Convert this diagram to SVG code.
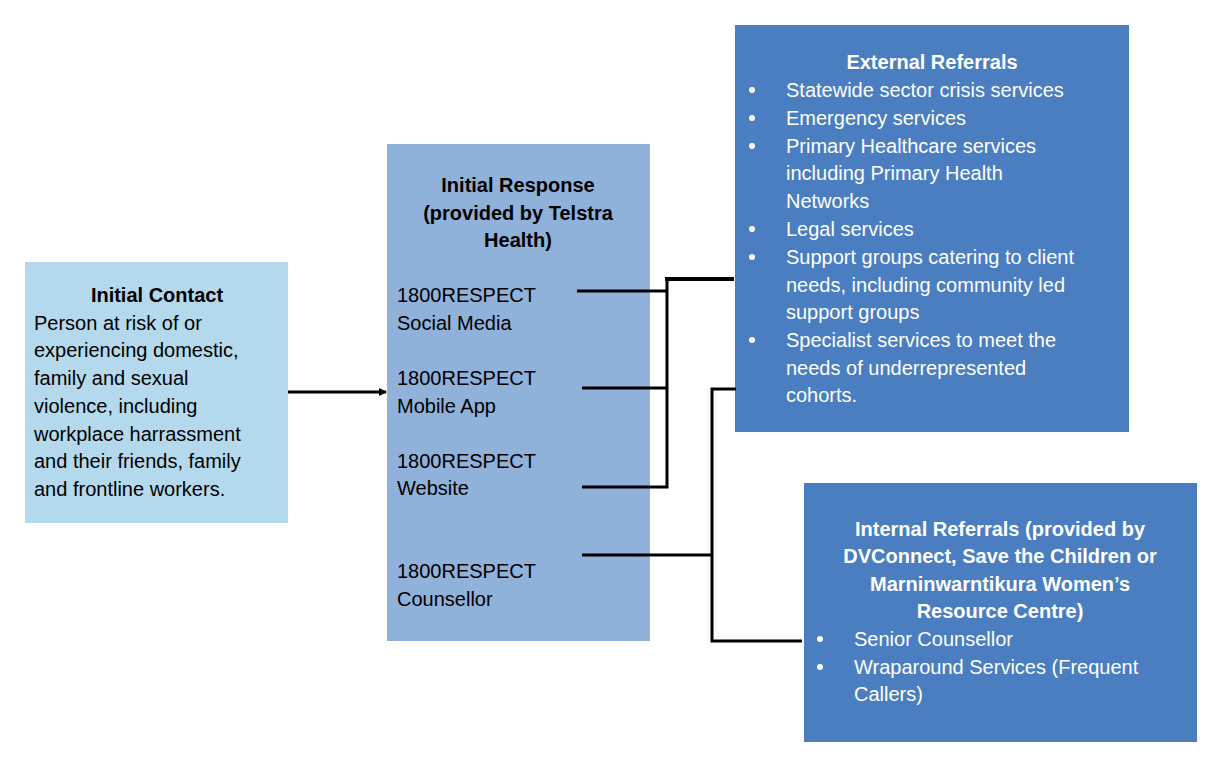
<svg xmlns="http://www.w3.org/2000/svg" width="1224" height="769" viewBox="0 0 1224 769">
<defs>
<style>
text{font-family:"Liberation Sans",Arial,sans-serif;font-size:20px}
.b{font-weight:bold}
.w{fill:#fff}
.k{fill:#000}
.c{stroke:#000;stroke-width:3;fill:none}
</style>
<marker id="ah" markerWidth="8" markerHeight="8" refX="7" refY="4" orient="auto" markerUnits="userSpaceOnUse" viewBox="0 0 8 8"><path d="M0,0L8,4L0,8z" fill="#000"/></marker>
</defs>
<rect width="1224" height="769" fill="#fff"/>
<g id="initial-contact">
<rect x="25" y="262" width="263" height="261" fill="#b4d9ec"/>
<text class="b k" x="157" y="302" text-anchor="middle">Initial Contact</text>
<text class="k" x="34" y="330">Person at risk of or</text>
<text class="k" x="34" y="357">experiencing domestic,</text>
<text class="k" x="34" y="385">family and sexual</text>
<text class="k" x="34" y="413">violence, including</text>
<text class="k" x="34" y="441">workplace harrassment</text>
<text class="k" x="34" y="468">and their friends, family</text>
<text class="k" x="34" y="496">and frontline workers.</text>
</g>
<g id="initial-response">
<rect x="387" y="144" width="263" height="497" fill="#8fb1da"/>
<text class="b k" x="518" y="192" text-anchor="middle">Initial Response</text>
<text class="b k" x="518" y="220" text-anchor="middle">(provided by Telstra</text>
<text class="b k" x="518" y="247" text-anchor="middle">Health)</text>
<text class="k" x="397" y="302">1800RESPECT</text>
<text class="k" x="397" y="330">Social Media</text>
<text class="k" x="397" y="385">1800RESPECT</text>
<text class="k" x="397" y="413">Mobile App</text>
<text class="k" x="397" y="468">1800RESPECT</text>
<text class="k" x="397" y="495">Website</text>
<text class="k" x="397" y="578">1800RESPECT</text>
<text class="k" x="397" y="606">Counsellor</text>
</g>
<g id="external-referrals">
<rect x="735" y="25" width="394" height="407" fill="#4a7ec1"/>
<text class="b w" x="932" y="69" text-anchor="middle">External Referrals</text>
<g class="w">
<circle cx="752" cy="90" r="3"/><circle cx="752" cy="118" r="3"/><circle cx="752" cy="146" r="3"/><circle cx="752" cy="229" r="3"/><circle cx="752" cy="257" r="3"/><circle cx="752" cy="340" r="3"/>
</g>
<text class="w" x="786" y="97">Statewide sector crisis services</text>
<text class="w" x="786" y="125">Emergency services</text>
<text class="w" x="786" y="153">Primary Healthcare services</text>
<text class="w" x="786" y="180">including Primary Health</text>
<text class="w" x="786" y="208">Networks</text>
<text class="w" x="786" y="236">Legal services</text>
<text class="w" x="786" y="264">Support groups catering to client</text>
<text class="w" x="786" y="292">needs, including community led</text>
<text class="w" x="786" y="319">support groups</text>
<text class="w" x="786" y="347">Specialist services to meet the</text>
<text class="w" x="786" y="375">needs of underrepresented</text>
<text class="w" x="786" y="402">cohorts.</text>
</g>
<g id="internal-referrals">
<rect x="804" y="483" width="393" height="259" fill="#4a7ec1"/>
<text class="b w" x="1000" y="536" text-anchor="middle">Internal Referrals (provided by</text>
<text class="b w" x="1000" y="563" text-anchor="middle">DVConnect, Save the Children or</text>
<text class="b w" x="1000" y="591" text-anchor="middle">Marninwarntikura Women’s</text>
<text class="b w" x="1000" y="618" text-anchor="middle">Resource Centre)</text>
<g class="w"><circle cx="820" cy="639" r="3"/><circle cx="820" cy="667" r="3"/></g>
<text class="w" x="854" y="646">Senior Counsellor</text>
<text class="w" x="854" y="674">Wraparound Services (Frequent</text>
<text class="w" x="854" y="701">Callers)</text>
</g>
<g id="connectors">
<path class="c" d="M288,392H386" marker-end="url(#ah)"/>
<path class="c" d="M577,291H666M582,388H666M582,487H667V279"/>
<path d="M665,279H734" stroke="#000" stroke-width="4"/>
<path class="c" d="M582,555H712M736,389H712V641H802"/>
</g>
</svg>
